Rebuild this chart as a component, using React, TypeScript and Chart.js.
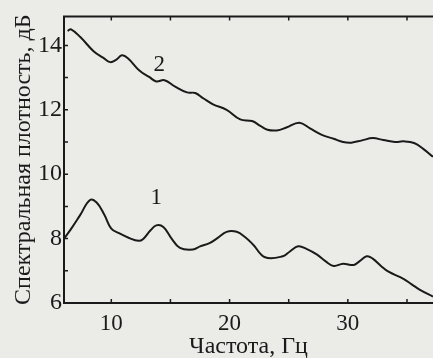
import React, { useEffect, useRef } from "react";
import { Chart, registerables } from "chart.js";

Chart.register(...registerables);

const curve2X = [6.3, 6.6, 7.4, 8.5, 9.3, 9.9, 10.4, 10.9, 11.4, 12.4, 13.2, 13.8, 14.5, 15.4, 16.4, 17.1, 17.8, 18.6, 19.75, 20.9, 21.9, 22.6, 23.2, 24.0, 24.8, 25.9, 26.8, 27.8, 28.8, 29.6, 30.3, 31.2, 32.1, 33.0, 34.0, 34.7, 35.6, 36.4, 37.2];
const curve2Y = [14.45, 14.5, 14.25, 13.82, 13.62, 13.48, 13.55, 13.69, 13.6, 13.21, 13.02, 12.88, 12.92, 12.72, 12.54, 12.52, 12.35, 12.17, 12.0, 11.7, 11.65, 11.5, 11.38, 11.36, 11.45, 11.6, 11.42, 11.22, 11.1, 11.0, 10.98, 11.05, 11.12, 11.06, 11.0, 11.02, 10.97, 10.78, 10.54];

const curve1X = [6.0, 6.6, 7.35, 8.2, 8.76, 9.4, 10.0, 10.7, 11.5, 12.3, 12.7, 13.3, 13.8, 14.4, 15.1, 15.8, 16.9, 17.5, 18.3, 19.0, 19.75, 20.6, 21.3, 22.0, 23.0, 24.5, 25.1, 25.8, 26.5, 27.4, 28.1, 28.8, 29.6, 30.5, 31.0, 31.6, 32.1, 32.8, 33.4, 34.7, 35.4, 36.1, 37.2];
const curve1Y = [8.0, 8.3, 8.72, 9.2, 9.12, 8.75, 8.31, 8.16, 8.02, 7.93, 7.99, 8.25, 8.41, 8.36, 8.0, 7.71, 7.66, 7.76, 7.86, 8.02, 8.21, 8.21, 8.05, 7.81, 7.42, 7.45, 7.6, 7.76, 7.68, 7.5, 7.3, 7.15, 7.22, 7.18, 7.3, 7.45, 7.38, 7.15, 6.98, 6.75, 6.58, 6.41, 6.2];

const xTicks = [10, 20, 30];
const yTicks = [6, 8, 10, 12, 14];
const curveLabels = ["1", "2"];
const curveLabelX = [13.8, 14.05];
const curveLabelY = [9.27, 13.38];

const X_MIN = 6;
const X_MAX = 37.2;
const Y_MIN = 6;
const Y_MAX = 14.9;

const INK = "#1a1a1a";
const FONT = "'Liberation Serif', 'DejaVu Serif', serif";

const framePlugin = {
  id: "frame",
  beforeDraw(chart: any) {
    const ctx = chart.ctx;
    ctx.save();
    ctx.fillStyle = "#ebebe8";
    ctx.fillRect(0, 0, chart.width, chart.height);
    ctx.restore();
  },
  afterDraw(chart: any) {
    const ctx = chart.ctx;
    const { left, right, top, bottom } = chart.chartArea;
    const xs = chart.scales.x;
    const ys = chart.scales.y;
    ctx.save();
    ctx.strokeStyle = INK;
    ctx.lineWidth = 2;
    ctx.beginPath();
    ctx.moveTo(right + 2, top);
    ctx.lineTo(left, top);
    ctx.lineTo(left, bottom);
    ctx.lineTo(right + 2, bottom);
    ctx.stroke();
    ctx.lineWidth = 1.5;
    ctx.beginPath();
    for (let v = 10; v <= X_MAX; v += 5) {
      const px = xs.getPixelForValue(v);
      ctx.moveTo(px, bottom);
      ctx.lineTo(px, bottom - 4);
      ctx.moveTo(px, top);
      ctx.lineTo(px, top + 4);
    }
    for (let v = Y_MIN + 1; v <= Y_MAX; v += 1) {
      const py = ys.getPixelForValue(v);
      ctx.moveTo(left, py);
      ctx.lineTo(left + 4, py);
    }
    ctx.stroke();

    ctx.fillStyle = INK;
    ctx.font = `23px ${FONT}`;
    ctx.textAlign = "center";
    ctx.textBaseline = "middle";
    for (let i = 0; i < curveLabels.length; i++) {
      ctx.fillText(curveLabels[i], xs.getPixelForValue(curveLabelX[i]), ys.getPixelForValue(curveLabelY[i]));
    }

    ctx.font = `24px ${FONT}`;
    ctx.fillText("Частота, Гц", (left + right) / 2, 347);
    ctx.translate(24, (top + bottom) / 2);
    ctx.rotate(-Math.PI / 2);
    ctx.fillText("Спектральная плотность, дБ", 0, 0);
    ctx.restore();
  },
};

export default function App() {
  const ref = useRef<HTMLCanvasElement>(null);
  useEffect(() => {
    document.body.style.margin = "0";
    const canvas = ref.current!;
    const chart = new Chart(canvas, {
      type: "line",
      data: {
        datasets: [
          {
            label: "1",
            data: curve1X.map((x, i) => ({ x, y: curve1Y[i] })),
            borderColor: INK,
            borderWidth: 2,
            pointRadius: 0,
            tension: 0.4,
            fill: false,
          },
          {
            label: "2",
            data: curve2X.map((x, i) => ({ x, y: curve2Y[i] })),
            borderColor: INK,
            borderWidth: 2,
            pointRadius: 0,
            tension: 0.4,
            fill: false,
          },
        ],
      },
      options: {
        animation: false,
        responsive: false,
        maintainAspectRatio: false,
        layout: { padding: { top: 9, right: 0, left: 0, bottom: 0 } },
        plugins: { legend: { display: false }, tooltip: { enabled: false } },
        scales: {
          x: {
            type: "linear",
            min: X_MIN,
            max: X_MAX,
            border: { display: false },
            grid: { display: false, drawTicks: false },
            afterBuildTicks: (scale: any) => {
              scale.ticks = xTicks.map((v) => ({ value: v }));
            },
            afterFit: (scale: any) => {
              scale.height = 55;
            },
            ticks: {
              color: INK,
              font: { family: FONT, size: 23 },
              padding: 7,
              maxRotation: 0,
              autoSkip: false,
            },
          },
          y: {
            type: "linear",
            min: Y_MIN,
            max: Y_MAX,
            border: { display: false },
            grid: { display: false, drawTicks: false },
            afterBuildTicks: (scale: any) => {
              scale.ticks = yTicks.map((v) => ({ value: v }));
            },
            afterFit: (scale: any) => {
              scale.width = 64;
            },
            ticks: {
              color: INK,
              font: { family: FONT, size: 24 },
              padding: 2,
              autoSkip: false,
            },
          },
        },
      },
      plugins: [framePlugin],
    });
    return () => chart.destroy();
  }, []);
  return <canvas ref={ref} width={433} height={358} style={{ display: "block" }} />;
}
